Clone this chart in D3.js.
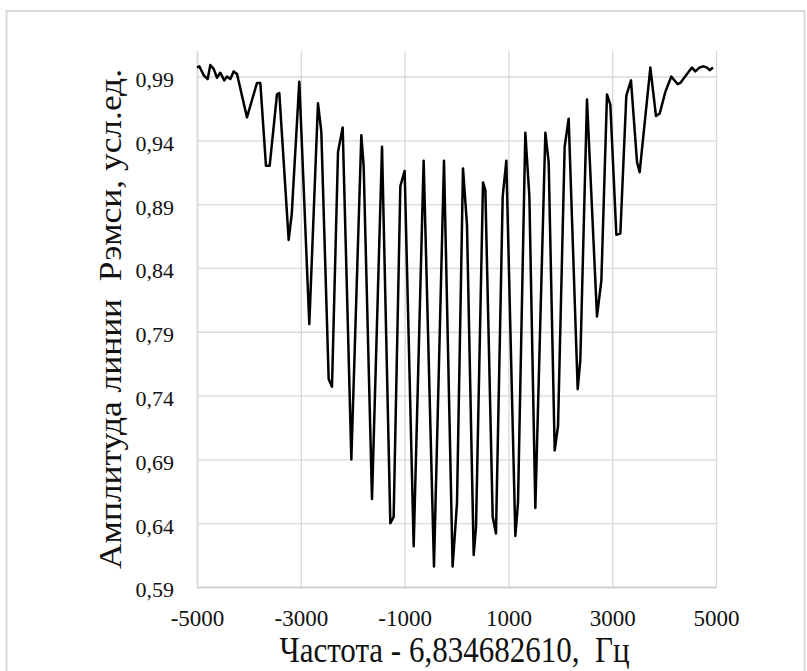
<!doctype html>
<html lang="ru">

<head>
  <meta charset="utf-8" />
  <title>Амплитуда линии Рэмси</title>
  <script src="https://cdn.jsdelivr.net/npm/d3@7"></script>
  <style>
    body { margin: 0; background: #fff; }
    svg text { font-family: "Liberation Serif", "Times New Roman", serif; }
    .grid line { stroke: #d9d9d9; stroke-width: 1.3; }
    .grid .domain { stroke: #c9c9c9; stroke-width: 1.5; }
    .grid text { fill: #111; }
  </style>
</head>

<body>
  <div id="chart"></div>
  <script>
    // frequency offset (Hz) and line amplitude
    const freqHz = [
      -5000, -4955, -4871, -4794, -4743, -4679, -4615, -4551, -4474, -4422,
      -4358, -4294, -4229, -4037, -3844, -3780, -3671, -3600, -3459, -3414,
      -3234, -3175, -3029, -2836, -2669, -2605, -2463, -2399, -2283, -2193,
      -2026, -1834, -1789, -1628, -1435, -1275, -1211, -1082, -999, -825,
      -633, -434, -241, -75, 10, 125, 202, 331, 376, 511,
      556, 697, 761, 890, 960, 1134, 1185, 1326, 1404, 1519,
      1712, 1776, 1892, 1956, 2084, 2161, 2335, 2386, 2514, 2707,
      2791, 2900, 2964, 3080, 3157, 3272, 3362, 3478, 3529, 3735,
      3844, 3915, 4024, 4139, 4261, 4313, 4441, 4538, 4602, 4679,
      4762, 4827, 4878, 4942
    ];
    const amplitude = [
      0.997, 0.998, 0.991, 0.988, 0.999, 0.996, 0.989, 0.993, 0.987, 0.990,
      0.988, 0.994, 0.992, 0.958, 0.985, 0.985, 0.920, 0.920, 0.976, 0.977,
      0.862, 0.882, 0.986, 0.796, 0.969, 0.947, 0.753, 0.747, 0.931, 0.950,
      0.690, 0.944, 0.920, 0.659, 0.935, 0.640, 0.645, 0.904, 0.916, 0.622,
      0.924, 0.606, 0.924, 0.606, 0.656, 0.918, 0.874, 0.615, 0.637, 0.907,
      0.901, 0.645, 0.632, 0.896, 0.924, 0.630, 0.656, 0.946, 0.896, 0.652,
      0.946, 0.923, 0.697, 0.716, 0.935, 0.957, 0.745, 0.768, 0.972, 0.802,
      0.830, 0.976, 0.968, 0.866, 0.867, 0.975, 0.987, 0.923, 0.915, 0.997,
      0.959, 0.961, 0.978, 0.990, 0.984, 0.985, 0.992, 0.997, 0.994, 0.997,
      0.998, 0.997, 0.995, 0.997
    ];
    const xTickValues = [-5000, -3000, -1000, 1000, 3000, 5000];
    const yTickValues = [0.59, 0.64, 0.69, 0.74, 0.79, 0.84, 0.89, 0.94, 0.99];
    const xTitle = "Частота - 6,834682610,  Гц";
    const yTitle = "Амплитуда линии  Рэмси, усл.ед.";

    const w = 807;
    const h = 671;
    const plot = { left: 197, right: 716, top: 51, bottom: 587 };
    const serif = '"Liberation Serif", "Times New Roman", serif';

    const ru = d3.formatLocale({
      decimal: ",", thousands: "", grouping: [3], currency: ["", ""], minus: "-"
    });

    const svg = d3.select("#chart").append("svg")
      .attr("width", w)
      .attr("height", h);

    // light frame around the whole chart
    svg.append("rect")
      .attr("x", 6.5)
      .attr("y", 11)
      .attr("width", 798)
      .attr("height", 690)
      .attr("fill", "none")
      .attr("stroke", "#d9d9d9")
      .attr("stroke-width", 2);

    const x = d3.scaleLinear().domain([-5000, 5000]).range([plot.left, plot.right]);
    const y = d3.scaleLinear().domain([0.59, 1.01]).range([plot.bottom, plot.top]);

    const yAxis = d3.axisLeft(y)
      .tickValues(yTickValues)
      .tickFormat(ru.format(".2f"))
      .tickSize(-(plot.right - plot.left))
      .tickSizeOuter(0)
      .tickPadding(23);

    const xAxis = d3.axisBottom(x)
      .tickValues(xTickValues)
      .tickFormat(ru.format("d"))
      .tickSize(-(plot.bottom - plot.top))
      .tickSizeOuter(0)
      .tickPadding(23);

    svg.append("g")
      .attr("class", "grid")
      .attr("transform", `translate(${plot.left},0)`)
      .call(yAxis)
      .attr("font-family", serif)
      .call(g => g.selectAll("text")
        .attr("dy", "0.45em")
        .style("font-family", serif)
        .style("font-size", "22px"));

    svg.append("g")
      .attr("class", "grid")
      .attr("transform", `translate(0,${plot.bottom})`)
      .call(xAxis)
      .attr("font-family", serif)
      .call(g => g.selectAll("text")
        .style("font-family", serif)
        .style("font-size", "23px"));

    const points = freqHz.map((f, i) => ({ f: f, a: amplitude[i] }));

    const line = d3.line()
      .x(d => x(d.f))
      .y(d => y(d.a));

    svg.append("path")
      .datum(points)
      .attr("d", line)
      .attr("fill", "none")
      .attr("stroke", "#000")
      .attr("stroke-width", 2.5)
      .attr("stroke-linejoin", "round");

    // axis titles (text in the picture is squeezed, so fit it with textLength)
    svg.append("text")
      .text(xTitle)
      .attr("x", (plot.left + plot.right) / 2 - 2)
      .attr("y", 662)
      .attr("text-anchor", "middle")
      .attr("textLength", 350)
      .attr("lengthAdjust", "spacingAndGlyphs")
      .style("white-space", "pre")
      .style("font-size", "36px")
      .style("fill", "#111");

    svg.append("text")
      .text(yTitle)
      .attr("transform", `translate(121,${(plot.top + plot.bottom) / 2}) rotate(-90)`)
      .attr("text-anchor", "middle")
      .attr("textLength", 500)
      .attr("lengthAdjust", "spacingAndGlyphs")
      .style("white-space", "pre")
      .style("font-size", "31px")
      .style("fill", "#111");
  </script>
</body>

</html>
